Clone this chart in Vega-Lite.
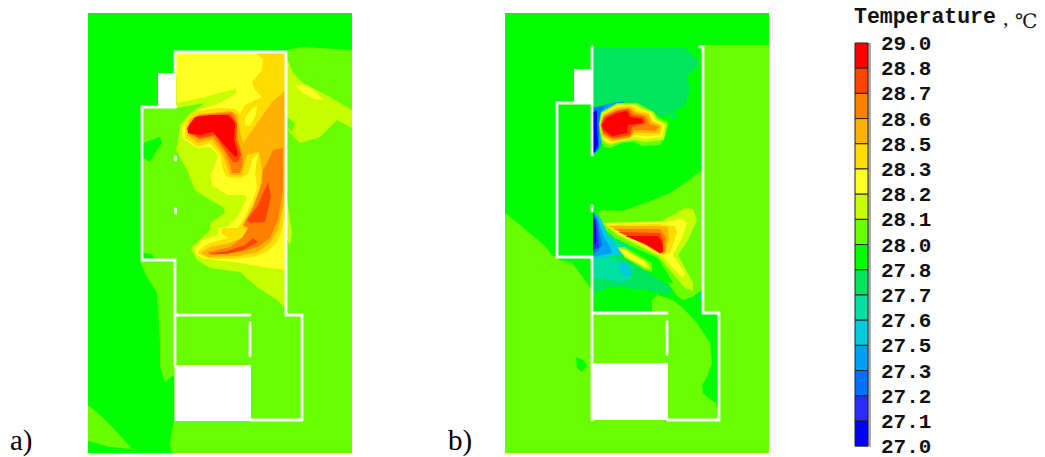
{
"$schema":"https://vega.github.io/schema/vega-lite/v6.json",
"description":"Indoor air temperature contours on a floor plan, cases a and b, with a shared temperature key.",
"padding":0,
"spacing":0,
"background":"white",
"config":{"view":{"stroke":null},"concat":{"spacing":0}},
"datasets":{
"key":[{"t":"29.0","rank":0,"next":1},{"t":"28.8","rank":1,"next":2},{"t":"28.7","rank":2,"next":3},{"t":"28.6","rank":3,"next":4},{"t":"28.5","rank":4,"next":5},{"t":"28.3","rank":5,"next":6},{"t":"28.2","rank":6,"next":7},{"t":"28.1","rank":7,"next":8},{"t":"28.0","rank":8,"next":9},{"t":"27.8","rank":9,"next":10},{"t":"27.7","rank":10,"next":11},{"t":"27.6","rank":11,"next":12},{"t":"27.5","rank":12,"next":13},{"t":"27.3","rank":13,"next":14},{"t":"27.2","rank":14,"next":15},{"t":"27.1","rank":15,"next":16},{"t":"27.0","rank":16,"next":null}],
"heading":[{"part":"Temperature"}],
"plan":[
{"panel":"a","kind":"band","t":"28.1","geometry":{"type":"Polygon","coordinates":[[[88,13],[352,13],[352,453],[88,453],[88,13]]]}},
{"panel":"a","kind":"band","t":"28.0","geometry":{"type":"Polygon","coordinates":[[[88,13],[352,13],[352,50],[303,47],[287,50],[286,52],[176,52],[176,107],[142,107],[142,259],[140,262],[147,277],[157,293],[160,343],[160,367],[165,382],[170,378],[174,375],[174,421],[172,430],[170,445],[172,453],[88,453],[88,13]]]}},
{"panel":"a","kind":"band","t":"28.1","geometry":{"type":"Polygon","coordinates":[[[88,405],[100,415],[115,430],[132,449],[110,447],[88,441],[88,405]]]}},
{"panel":"a","kind":"band","t":"28.0","geometry":{"type":"Polygon","coordinates":[[[143,143],[160,137],[162,143],[155,153],[150,162],[143,158],[143,143]]]}},
{"panel":"a","kind":"band","t":"28.0","geometry":{"type":"Polygon","coordinates":[[[143,253],[152,254],[154,258],[143,259],[143,253]]]}},
{"panel":"a","kind":"band","t":"28.2","geometry":{"type":"Polygon","coordinates":[[[287,58],[293,73],[303,83],[330,97],[352,110],[352,128],[337,120],[320,137],[300,143],[290,133],[287,127],[287,58]]]}},
{"panel":"a","kind":"band","t":"28.1","geometry":{"type":"Polygon","coordinates":[[[287,117],[295,123],[292,132],[287,127],[287,117]]]}},
{"panel":"a","kind":"band","t":"28.3","geometry":{"type":"Polygon","coordinates":[[[295,85],[307,85],[317,93],[323,100],[315,99],[303,93],[295,85]]]}},
{"panel":"a","kind":"band","t":"28.2","geometry":{"type":"Polygon","coordinates":[[[287,200],[292,233],[290,245],[287,240],[287,200]]]}},
{"panel":"a","kind":"band","t":"28.2","geometry":{"type":"Polygon","coordinates":[[[176,52],[286,52],[286,310],[282,305],[277,300],[257,287],[240,272],[210,268],[197,260],[191,248],[210,230],[210,223],[225,213],[223,207],[210,200],[195,190],[187,170],[176,150],[178,140],[180,125],[190,113],[205,103],[176,108],[176,52]]]}},
{"panel":"a","kind":"band","t":"28.3","geometry":{"type":"Polygon","coordinates":[[[176,52],[286,52],[286,270],[270,268],[240,263],[202,258],[195,253],[195,247],[202,240],[218,235],[218,228],[227,227],[237,217],[247,198],[245,195],[227,195],[212,185],[210,175],[213,170],[218,155],[210,147],[197,148],[182,138],[182,128],[187,118],[198,110],[215,105],[230,97],[237,92],[235,89],[205,97],[177,103],[176,52]]]}},
{"panel":"a","kind":"band","t":"28.5","geometry":{"type":"Polygon","coordinates":[[[257,53],[286,52],[286,213],[282,230],[277,242],[267,252],[253,257],[233,259],[210,259],[198,254],[199,250],[210,243],[228,238],[221,233],[222,228],[238,228],[245,217],[253,200],[257,187],[255,173],[258,153],[252,160],[249,172],[247,175],[240,178],[227,177],[223,170],[220,155],[210,143],[198,147],[185,138],[185,125],[188,117],[198,111],[220,108],[235,109],[240,114],[245,105],[262,97],[255,90],[252,82],[262,70],[263,60],[257,53]]]}},
{"panel":"a","kind":"band","t":"28.3","geometry":{"type":"Polygon","coordinates":[[[245,118],[252,108],[257,106],[256,115],[250,126],[245,125],[245,118]]]}},
{"panel":"a","kind":"band","t":"28.6","geometry":{"type":"Polygon","coordinates":[[[286,90],[284,203],[278,230],[270,243],[258,252],[240,256],[208,257],[201,253],[210,247],[230,243],[243,237],[252,227],[243,228],[255,207],[260,190],[262,170],[259,152],[247,155],[245,163],[242,175],[230,175],[227,167],[223,155],[212,140],[198,143],[187,135],[189,120],[198,114],[230,111],[238,115],[240,132],[243,143],[258,122],[272,102],[286,90]]]}},
{"panel":"a","kind":"band","t":"28.7","geometry":{"type":"Polygon","coordinates":[[[235,115],[232,112],[200,115],[190,122],[188,133],[200,140],[213,137],[225,153],[230,165],[232,173],[240,173],[243,163],[242,153],[238,140],[237,127],[235,115]]]}},
{"panel":"a","kind":"band","t":"28.7","geometry":{"type":"Polygon","coordinates":[[[283,148],[273,150],[267,163],[263,170],[262,183],[253,207],[243,225],[248,228],[242,238],[230,247],[208,252],[210,255],[240,252],[258,247],[270,238],[278,220],[283,190],[283,148]]]}},
{"panel":"a","kind":"band","t":"28.8","geometry":{"type":"Polygon","coordinates":[[[189,125],[198,116],[230,114],[237,123],[236,140],[241,155],[238,162],[233,162],[227,153],[215,135],[200,138],[189,133],[189,125]]]}},
{"panel":"a","kind":"band","t":"28.8","geometry":{"type":"Polygon","coordinates":[[[268,182],[271,197],[265,222],[250,223],[247,220],[258,205],[268,182]]]}},
{"panel":"a","kind":"band","t":"28.8","geometry":{"type":"Polygon","coordinates":[[[208,254],[227,251],[245,245],[253,238],[258,242],[243,250],[227,254],[208,254]]]}},
{"panel":"a","kind":"band","t":"29.0","geometry":{"type":"Polygon","coordinates":[[[187,128],[195,117],[210,115],[228,115],[235,123],[234,140],[238,155],[235,157],[227,148],[213,132],[200,135],[188,133],[187,128]]]}},
{"panel":"b","kind":"band","t":"28.1","geometry":{"type":"Polygon","coordinates":[[[505,13],[769,13],[769,453],[505,453],[505,13]]]}},
{"panel":"b","kind":"band","t":"28.0","geometry":{"type":"Polygon","coordinates":[[[505,13],[769,13],[769,45],[704,45],[704,313],[719,313],[719,415],[716,403],[711,400],[703,393],[702,385],[707,377],[712,363],[710,343],[697,323],[683,308],[673,300],[658,295],[652,300],[652,313],[592,313],[592,288],[590,288],[585,280],[572,263],[560,260],[552,255],[545,246],[520,225],[505,213],[505,13]]]}},
{"panel":"b","kind":"band","t":"28.0","geometry":{"type":"Polygon","coordinates":[[[576,357],[583,360],[587,365],[582,372],[577,368],[576,357]]]}},
{"panel":"b","kind":"band","t":"27.8","geometry":{"type":"Polygon","coordinates":[[[593,48],[685,48],[698,60],[698,67],[687,75],[690,90],[685,105],[673,113],[662,117],[645,108],[625,102],[593,105],[593,48]]]}},
{"panel":"b","kind":"band","t":"27.7","geometry":{"type":"Polygon","coordinates":[[[670,113],[677,116],[672,118],[670,113]]]}},
{"panel":"b","kind":"band","t":"27.5","geometry":{"type":"Polygon","coordinates":[[[593,107],[612,103],[625,101],[622,105],[608,110],[602,115],[600,123],[602,140],[600,148],[595,153],[593,153],[593,107]]]}},
{"panel":"b","kind":"band","t":"27.3","geometry":{"type":"Polygon","coordinates":[[[593,108],[605,106],[601,112],[599,120],[599,140],[599,148],[595,153],[593,153],[593,108]]]}},
{"panel":"b","kind":"band","t":"27.1","geometry":{"type":"Polygon","coordinates":[[[593,112],[597,110],[597,125],[598,145],[595,152],[593,152],[593,112]]]}},
{"panel":"b","kind":"band","t":"27.7","geometry":{"type":"Polygon","coordinates":[[[603,135],[625,137],[640,142],[612,145],[605,145],[603,135]]]}},
{"panel":"b","kind":"band","t":"28.1","geometry":{"type":"Polygon","coordinates":[[[599,125],[601,112],[617,103],[638,103],[645,107],[654,112],[659,118],[668,122],[667,130],[660,145],[642,146],[634,142],[622,143],[610,148],[604,147],[601,140],[599,125]]]}},
{"panel":"b","kind":"band","t":"28.2","geometry":{"type":"Polygon","coordinates":[[[599.5,125],[602,113],[617,104],[636,104],[642,108],[652,111],[657,119],[667,124],[664,140],[645,142],[634,140],[622,141],[610,145],[604,142],[599.5,125]]]}},
{"panel":"b","kind":"band","t":"28.3","geometry":{"type":"Polygon","coordinates":[[[600,125],[602,114],[617,105],[634,105],[640,109],[650,112],[655,120],[665,124],[662,137],[645,139],[634,137],[625,140],[610,143],[603,140],[600,125]]]}},
{"panel":"b","kind":"band","t":"28.5","geometry":{"type":"Polygon","coordinates":[[[600,125],[603,114],[617,107],[632,106],[638,110],[649,113],[653,121],[663,125],[660,135],[645,136],[634,135],[628,139],[612,142],[603,138],[600,125]]]}},
{"panel":"b","kind":"band","t":"28.6","geometry":{"type":"Polygon","coordinates":[[[600.5,125],[603,115],[617,108],[630,107],[636,112],[648,114],[652,122],[661,126],[658,133],[645,133],[634,132],[630,138],[612,141],[603,136],[600.5,125]]]}},
{"panel":"b","kind":"band","t":"28.7","geometry":{"type":"Polygon","coordinates":[[[600.5,125],[604,116],[617,110],[629,108],[634,113],[646,116],[650,124],[659,127],[655,131],[645,130],[634,130],[630,137],[612,139],[603,134],[600.5,125]]]}},
{"panel":"b","kind":"band","t":"28.8","geometry":{"type":"Polygon","coordinates":[[[601,125],[604,117],[617,111],[628,109],[632,115],[644,117],[646,123],[632,127],[630,135],[612,138],[603,132],[601,125]]]}},
{"panel":"b","kind":"band","t":"29.0","geometry":{"type":"Polygon","coordinates":[[[602,125],[606,118],[617,113],[627,111],[630,117],[642,119],[643,123],[628,125],[627,133],[612,136],[604,130],[602,125]]]}},
{"panel":"b","kind":"band","t":"28.1","geometry":{"type":"Polygon","coordinates":[[[600,210],[622,211],[645,203],[670,193],[685,183],[702,170],[702,290],[692,297],[683,300],[678,297],[668,283],[652,267],[632,253],[612,242],[602,227],[598,213],[600,210]]]}},
{"panel":"b","kind":"band","t":"27.8","geometry":{"type":"Polygon","coordinates":[[[593,256],[607,252],[625,256],[640,267],[655,277],[672,288],[668,295],[645,290],[610,287],[593,294],[593,256]]]}},
{"panel":"b","kind":"band","t":"27.7","geometry":{"type":"Polygon","coordinates":[[[593,258],[610,258],[622,262],[632,278],[620,283],[600,278],[593,278],[593,258]]]}},
{"panel":"b","kind":"band","t":"27.6","geometry":{"type":"Polygon","coordinates":[[[619,262],[630,265],[632,275],[625,277],[620,272],[619,262]]]}},
{"panel":"b","kind":"band","t":"27.6","geometry":{"type":"Polygon","coordinates":[[[698,296],[702,293],[702,299],[698,296]]]}},
{"panel":"b","kind":"band","t":"28.0","geometry":{"type":"Polygon","coordinates":[[[603,228],[615,238],[635,248],[658,258],[673,283],[665,282],[648,262],[632,252],[617,245],[605,235],[603,228]]]}},
{"panel":"b","kind":"band","t":"27.7","geometry":{"type":"Polygon","coordinates":[[[605,232],[620,242],[632,248],[625,252],[612,245],[605,232]]]}},
{"panel":"b","kind":"band","t":"27.6","geometry":{"type":"Polygon","coordinates":[[[593,212],[600,217],[608,235],[618,248],[625,255],[593,258],[593,212]]]}},
{"panel":"b","kind":"band","t":"27.5","geometry":{"type":"Polygon","coordinates":[[[593,212],[598,218],[603,235],[610,247],[612,253],[593,257],[593,212]]]}},
{"panel":"b","kind":"band","t":"27.3","geometry":{"type":"Polygon","coordinates":[[[593,213],[597,220],[600,235],[602,245],[597,252],[593,254],[593,213]]]}},
{"panel":"b","kind":"band","t":"27.2","geometry":{"type":"Polygon","coordinates":[[[593,214],[596,220],[598,235],[599,247],[593,250],[593,214]]]}},
{"panel":"b","kind":"band","t":"27.1","geometry":{"type":"Polygon","coordinates":[[[593,214],[595,220],[596,235],[596,243],[593,245],[593,214]]]}},
{"panel":"b","kind":"band","t":"28.1","geometry":{"type":"Polygon","coordinates":[[[617,247],[625,247],[652,263],[652,272],[645,270],[625,258],[617,247]]]}},
{"panel":"b","kind":"band","t":"28.2","geometry":{"type":"Polygon","coordinates":[[[618,248],[625,249],[649,264],[650,269],[645,268],[625,257],[618,248]]]}},
{"panel":"b","kind":"band","t":"28.3","geometry":{"type":"Polygon","coordinates":[[[619,249],[625,250],[645,261],[647,267],[642,265],[625,256],[619,249]]]}},
{"panel":"b","kind":"band","t":"28.2","geometry":{"type":"Polygon","coordinates":[[[603,223],[662,221],[685,208],[693,209],[697,220],[688,240],[678,255],[693,283],[693,291],[685,288],[670,270],[658,256],[637,245],[617,235],[603,223]]]}},
{"panel":"b","kind":"band","t":"28.3","geometry":{"type":"Polygon","coordinates":[[[605,223],[662,222],[682,219],[687,223],[682,238],[673,255],[685,273],[683,278],[673,268],[663,256],[638,244],[618,233],[605,223]]]}},
{"panel":"b","kind":"band","t":"28.5","geometry":{"type":"Polygon","coordinates":[[[607,225],[658,224],[675,226],[677,233],[670,253],[663,255],[640,243],[620,232],[607,225]]]}},
{"panel":"b","kind":"band","t":"28.6","geometry":{"type":"Polygon","coordinates":[[[608,226],[658,226],[668,227],[669,240],[665,253],[662,254],[642,243],[622,232],[608,226]]]}},
{"panel":"b","kind":"band","t":"28.7","geometry":{"type":"Polygon","coordinates":[[[613,229],[660,229],[666,237],[665,252],[660,254],[643,243],[623,233],[613,229]]]}},
{"panel":"b","kind":"band","t":"28.8","geometry":{"type":"Polygon","coordinates":[[[618,232],[660,233],[663,240],[663,252],[660,253],[645,243],[625,235],[618,232]]]}},
{"panel":"b","kind":"band","t":"29.0","geometry":{"type":"Polygon","coordinates":[[[625,236],[658,236],[662,242],[663,251],[660,253],[645,244],[625,236]]]}},
{"panel":"a","kind":"hole","geometry":{"type":"MultiPolygon","coordinates":[[[[158,73],[176,73],[176,108],[158,108],[158,73]]],[[[174.5,365],[251,365],[251,421],[174.5,421],[174.5,365]]]]}},
{"panel":"b","kind":"hole","geometry":{"type":"MultiPolygon","coordinates":[[[[574,69],[592,69],[592,104],[574,104],[574,69]]],[[[592,363],[668,363],[668,420],[592,420],[592,363]]]]}},
{"panel":"a","kind":"wall","geometry":{"type":"MultiLineString","coordinates":[[[175,74],[175,52],[286,52],[286,315],[302,315],[302,420],[251,420]],[[176,107],[142,107],[142,260],[175,260],[175,365]],[[176,315],[250,315]],[[250,323],[250,356]],[[175.5,157],[175.5,160]],[[175.5,209],[175.5,213]]]}},
{"panel":"b","kind":"wall","geometry":{"type":"MultiLineString","coordinates":[[[592,47],[592,155]],[[592,206],[592,211]],[[592,103],[557,103],[557,257],[592,257],[592,420]],[[700,47],[703,47],[703,313],[719,313],[719,420],[668,420]],[[592,313],[667,313]],[[667,322],[667,354]]]}}
],
"cases":[{"label":"a)","px":10},{"label":"b)","px":448}]
},
"hconcat":[
{"width":769,"height":457,
"projection":{"type":"identity","scale":1,"translate":[0,0]},
"layer":[
{"data":{"name":"plan"},"transform":[{"filter":"datum.kind == 'band'"}],"mark":{"type":"geoshape","strokeWidth":0},"encoding":{"shape":{"field":"geometry","type":"geojson"},"color":{"field":"t","type":"nominal","legend":null,"scale":{"domain":["29.0","28.8","28.7","28.6","28.5","28.3","28.2","28.1","28.0","27.8","27.7","27.6","27.5","27.3","27.2","27.1"],"range":["#ff0000","#ff4400","#ff8000","#ffb300","#ffdd00","#ffff22","#c6ff00","#6aff00","#00ff00","#00e65c","#00e0a0","#00ccdd","#00a0f0","#0070ff","#2a2aff","#0000ff"]}}}},
{"data":{"name":"plan"},"transform":[{"filter":"datum.kind == 'hole'"}],"mark":{"type":"geoshape","fill":"white","strokeWidth":0},"encoding":{"shape":{"field":"geometry","type":"geojson"}}},
{"data":{"name":"plan"},"transform":[{"filter":"datum.kind == 'wall'"}],"mark":{"type":"geoshape","filled":false,"stroke":"white","strokeWidth":2.8,"strokeCap":"round"},"encoding":{"shape":{"field":"geometry","type":"geojson"}}},
{"data":{"name":"cases"},"mark":{"type":"text","font":"Liberation Serif","fontSize":29,"align":"left","baseline":"alphabetic","color":"black"},"encoding":{"longitude":{"field":"px","type":"quantitative"},"latitude":{"datum":450},"text":{"field":"label"}}}
]},
{"width":276,"height":457,
"layer":[
{"data":{"name":"key"},"mark":{"type":"rule","color":"#aaaaaa","strokeWidth":1.5},"encoding":{"x":{"datum":869.5,"type":"quantitative","scale":{"domain":[769,1045],"nice":false,"zero":false},"axis":null},"y":{"datum":0,"type":"quantitative","scale":{"domain":[16.43,-1.706],"nice":false,"zero":false},"axis":null},"y2":{"datum":16}}},
{"data":{"name":"key"},"transform":[{"filter":"datum.next != null"}],"mark":{"type":"rect","stroke":"#222222","strokeWidth":1},"encoding":{"x":{"datum":855,"type":"quantitative"},"x2":{"datum":868},"y":{"field":"rank","type":"quantitative"},"y2":{"field":"next"},"color":{"field":"t","type":"nominal","legend":null,"scale":{"domain":["29.0","28.8","28.7","28.6","28.5","28.3","28.2","28.1","28.0","27.8","27.7","27.6","27.5","27.3","27.2","27.1"],"range":["#ff0000","#ff4400","#ff8000","#ffb300","#ffdd00","#ffff22","#c6ff00","#6aff00","#00ff00","#00e65c","#00e0a0","#00ccdd","#00a0f0","#0070ff","#2a2aff","#0000ff"]}}}},
{"data":{"name":"key"},"mark":{"type":"text","font":"Liberation Mono","fontWeight":"bold","fontSize":21,"align":"left","baseline":"middle","dy":1,"color":"#111111"},"encoding":{"x":{"datum":881,"type":"quantitative"},"y":{"field":"rank","type":"quantitative"},"text":{"field":"t"}}},
{"data":{"name":"heading"},"mark":{"type":"text","font":"Liberation Mono","fontWeight":"bold","fontSize":21.5,"align":"left","baseline":"middle","color":"#111111"},"encoding":{"x":{"datum":854,"type":"quantitative"},"y":{"datum":-1.02,"type":"quantitative"},"text":{"field":"part"}}},
{"data":{"name":"heading"},"mark":{"type":"text","font":"Liberation Serif","fontSize":22,"align":"left","baseline":"alphabetic","color":"#111111","text":","},"encoding":{"x":{"datum":1003,"type":"quantitative"},"y":{"datum":-0.72,"type":"quantitative"}}},
{"data":{"name":"heading"},"mark":{"type":"text","font":"DejaVu Serif","fontSize":20,"align":"left","baseline":"alphabetic","color":"#111111","text":"℃"},"encoding":{"x":{"datum":1015,"type":"quantitative"},"y":{"datum":-0.6,"type":"quantitative"}}}
]}
]}
